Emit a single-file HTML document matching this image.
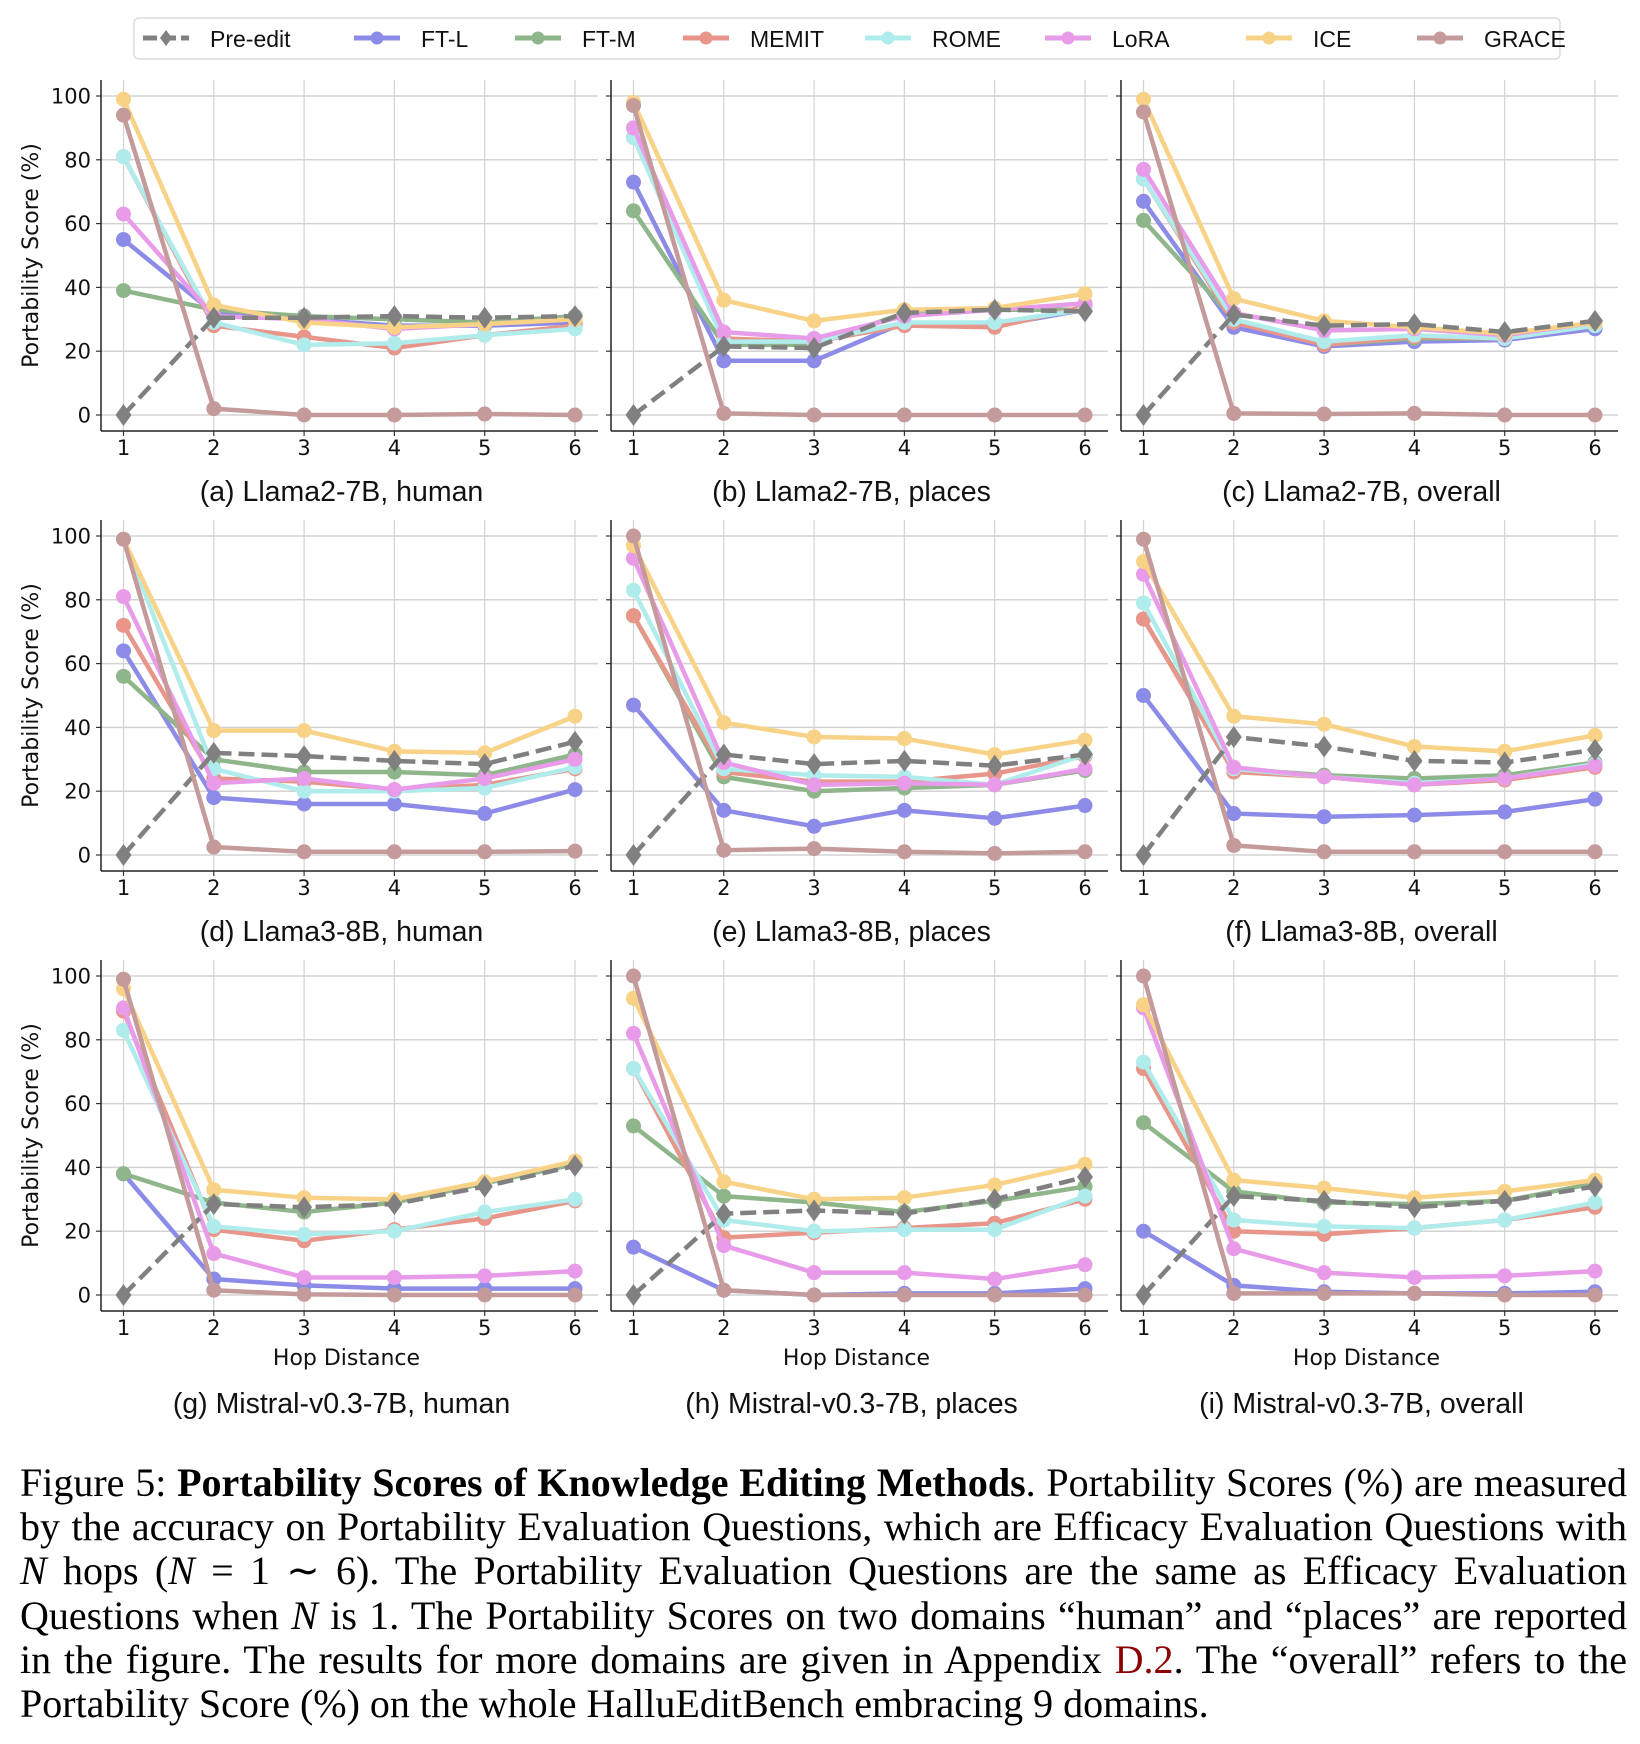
<!DOCTYPE html>
<html><head><meta charset="utf-8"><style>
body{margin:0;background:#fff;width:1640px;height:1744px;overflow:hidden;position:relative}
#cap{position:absolute;left:20px;top:1461px;width:1607px;font-family:"Liberation Serif",serif;font-size:40px;line-height:44.2px;color:#000}
#cap div{text-align:justify;text-align-last:justify;white-space:nowrap;height:44.2px}
#cap div.last{text-align-last:left}
#cap i{font-style:italic}
.ref{color:#8b0000}
</style></head><body>
<svg id="fig" width="1640" height="1460" style="position:absolute;left:0;top:0" xmlns="http://www.w3.org/2000/svg" font-family="DejaVu Sans, Liberation Sans, sans-serif"></svg>
<div id="cap">
<div>Figure 5: <b>Portability Scores of Knowledge Editing Methods</b>. Portability Scores (%) are measured</div>
<div>by the accuracy on Portability Evaluation Questions, which are Efficacy Evaluation Questions with</div>
<div><i>N</i> hops (<i>N</i> = 1 ∼ 6). The Portability Evaluation Questions are the same as Efficacy Evaluation</div>
<div>Questions when <i>N</i> is 1. The Portability Scores on two domains “human” and “places” are reported</div>
<div>in the figure. The results for more domains are given in Appendix <span class="ref">D.2</span>. The “overall” refers to the</div>
<div class="last">Portability Score (%) on the whole HalluEditBench embracing 9 domains.</div>
</div>
<script>
const hops=[1,2,3,4,5,6];
const yTicks=[0,20,40,60,80,100];
const methods=["Pre-edit","FT-L","FT-M","MEMIT","ROME","LoRA","ICE","GRACE"];
const colors=["#808080","#8c8ce8","#8fb58a","#e8958a","#b0ecec","#e89be8","#f8d286","#c49a9a"];
const titles=["(a) Llama2-7B, human","(b) Llama2-7B, places","(c) Llama2-7B, overall","(d) Llama3-8B, human","(e) Llama3-8B, places","(f) Llama3-8B, overall","(g) Mistral-v0.3-7B, human","(h) Mistral-v0.3-7B, places","(i) Mistral-v0.3-7B, overall"];
const pA_ftl=[55,32,30,28,28,29],pA_ftm=[39,33,31,30,29,31],pA_mem=[81,28,24.5,21,25,28],pA_rom=[81,29,22,22.5,25,27],pA_lora=[63,31,30,27,28.5,30],pA_ice=[99,34.5,29,27.5,28.5,30],pA_gr=[94,2,0,0,0.3,0],pA_pre=[0,30.5,30.5,31,30.5,31];
const pB_ftl=[73,17,17,29,28,33],pB_ftm=[64,22,22,32,33,33],pB_mem=[87,24,23,28,27.5,34],pB_rom=[87,23,23,29,29,33],pB_lora=[90,26,24,31,33,35],pB_ice=[98,36,29.5,33,33.5,38],pB_gr=[97,0.5,0,0,0,0],pB_pre=[0,21.5,21,32,33,32.5];
const pC_ftl=[67,27.5,21.5,23,23.5,27],pC_ftm=[61,30,22,24,24,28],pC_mem=[74,29,22,24.5,24,28],pC_rom=[74,30,23,25,24,28],pC_lora=[77,32,26.5,27,25,29],pC_ice=[99,36.5,29.5,27.5,25.5,29],pC_gr=[95,0.5,0.3,0.5,0,0],pC_pre=[0,31.5,28,28.5,26,29.5];
const pD_ftl=[64,18,16,16,13,20.5],pD_ftm=[56,30,26,26,25,31.5],pD_mem=[72,24,23,20.5,22,27],pD_rom=[99,27,20,20,21,27.5],pD_lora=[81,22.5,24,20.5,24,30],pD_ice=[99,39,39,32.5,32,43.5],pD_gr=[99,2.5,1,1,1,1.2],pD_pre=[0,32,31,29.5,28.5,35.5];
const pE_ftl=[47,14,9,14,11.5,15.5],pE_ftm=[75,24.5,20,21,22,26.5],pE_mem=[75,26,23,23,25.5,31],pE_rom=[83,27,25,24.5,22,31.5],pE_lora=[93,29,22,22.5,22,27],pE_ice=[97,41.5,37,36.5,31.5,36],pE_gr=[100,1.5,2,1,0.5,1],pE_pre=[0,31.5,28.5,29.5,28,31.5];
const pF_ftl=[50,13,12,12.5,13.5,17.5],pF_ftm=[74,27,25,24,25,29],pF_mem=[74,26,24.5,22,23.5,27.5],pF_rom=[79,27,24.5,22.5,24,28.5],pF_lora=[88,27.5,24.5,22,24,28],pF_ice=[92,43.5,41,34,32.5,37.5],pF_gr=[99,3,1,1,1,1],pF_pre=[0,37,34,29.5,29,33];
const pG_ftl=[38,5,3,2,2,2],pG_ftm=[38,29,26,29,35,41],pG_mem=[89,20.5,17,20.5,24,29.5],pG_rom=[83,21.5,19,20,26,30],pG_lora=[90,13,5.5,5.5,6,7.5],pG_ice=[96,33,30.5,30,35.5,42],pG_gr=[99,1.5,0.2,0,0,0],pG_pre=[0,28.5,27.5,28.5,34,40.5];
const pH_ftl=[15,1.5,0,0.5,0.5,2],pH_ftm=[53,31,29,26,29.5,34],pH_mem=[71,18,19.5,21,22.5,30],pH_rom=[71,23.5,20,20.5,20.5,31],pH_lora=[82,15.5,7,7,5,9.5],pH_ice=[93,35.5,30,30.5,34.5,41],pH_gr=[100,1.5,0,0,0,0],pH_pre=[0,25.5,26.5,25.5,30,37];
const pI_ftl=[20,3,1,0.5,0.5,1],pI_ftm=[54,32.5,29,28.5,29.5,35],pI_mem=[71,20,19,21,23.5,27.5],pI_rom=[73,23.5,21.5,21,23.5,29],pI_lora=[90,14.5,7,5.5,6,7.5],pI_ice=[91,36,33.5,30.5,32.5,36],pI_gr=[100,0.5,0.5,0.5,0,0],pI_pre=[0,31,29.5,27.5,29.5,34];
const panels=[
[pA_pre,pA_ftl,pA_ftm,pA_mem,pA_rom,pA_lora,pA_ice,pA_gr],[pB_pre,pB_ftl,pB_ftm,pB_mem,pB_rom,pB_lora,pB_ice,pB_gr],[pC_pre,pC_ftl,pC_ftm,pC_mem,pC_rom,pC_lora,pC_ice,pC_gr],
[pD_pre,pD_ftl,pD_ftm,pD_mem,pD_rom,pD_lora,pD_ice,pD_gr],[pE_pre,pE_ftl,pE_ftm,pE_mem,pE_rom,pE_lora,pE_ice,pE_gr],[pF_pre,pF_ftl,pF_ftm,pF_mem,pF_rom,pF_lora,pF_ice,pF_gr],
[pG_pre,pG_ftl,pG_ftm,pG_mem,pG_rom,pG_lora,pG_ice,pG_gr],[pH_pre,pH_ftl,pH_ftm,pH_mem,pH_rom,pH_lora,pH_ice,pH_gr],[pI_pre,pI_ftl,pI_ftm,pI_mem,pI_rom,pI_lora,pI_ice,pI_gr]];

const NS="http://www.w3.org/2000/svg";
const svg=document.getElementById('fig');
function mk(tag,attrs,parent,text){const e=document.createElementNS(NS,tag);for(const k in attrs)e.setAttribute(k,attrs[k]);if(text!==undefined)e.textContent=text;(parent||svg).appendChild(e);return e;}

const lg=mk('g',{});


mk('rect',{x:134,y:18,width:1426,height:41,rx:5,fill:'#fff',stroke:'#dcdcdc','stroke-width':1.5},lg);
const legX=[143,354,515,683,865,1045,1246,1417];
methods.forEach((m,i)=>{
  const g=mk('g',{},lg);
  
  
  const x=legX[i];
  mk('line',{x1:x,y1:38,x2:x+46,y2:38,stroke:colors[i],'stroke-width':5,'stroke-dasharray':i===0?'14,5':'none'},g);
  if(i===0) mk('path',{d:`M${x+23},30 L${x+29},38 L${x+23},46 L${x+17},38Z`,fill:colors[i]},g);
  else mk('circle',{cx:x+23,cy:38,r:6.5,fill:colors[i]},g);
  mk('text',{x:x+67,y:47,'font-size':23,'font-family':'Liberation Sans, sans-serif',fill:'#111'},g,m);
});

panels.forEach((series,p)=>{
  const c=p%3,r=Math.floor(p/3);
  const L=101+510*c,T=80+440*r,B=431+440*r,W=497;
  const xs=h=>L+22.5+(h-1)*(451.5/5);
  const ys=v=>415+440*r-v*3.19;
  const g=mk('g',{});
  
  
  yTicks.forEach(t=>{
    mk('line',{x1:L,x2:L+W,y1:ys(t),y2:ys(t),stroke:'#d3d3d3','stroke-width':1.5},g);
    mk('line',{x1:L-5,x2:L,y1:ys(t),y2:ys(t),stroke:'#333','stroke-width':1.2},g);
    if(c===0){const tl=mk('text',{x:L-10,y:ys(t)+7.5,'text-anchor':'end','font-size':21,fill:'#111'},g,String(t));
      }
  });
  hops.forEach(h=>{
    mk('line',{x1:xs(h),x2:xs(h),y1:T,y2:B,stroke:'#d3d3d3','stroke-width':1.2},g);
    mk('line',{x1:xs(h),x2:xs(h),y1:B,y2:B+5,stroke:'#333','stroke-width':1.2},g);
    const xl=mk('text',{x:xs(h),y:B+24,'text-anchor':'middle','font-size':21,fill:'#111'},g,String(h));
    
  });
  mk('line',{x1:L,x2:L,y1:T,y2:B,stroke:'#222','stroke-width':1.5},g);
  mk('line',{x1:L,x2:L+W,y1:B,y2:B,stroke:'#222','stroke-width':1.5},g);
  if(c===0){const yl=mk('text',{x:0,y:0,transform:`translate(38,${(T+B)/2}) rotate(-90)`,'text-anchor':'middle','font-size':22,fill:'#111'},g,'Portability Score (%)');
    }
  if(r===2){const xt=mk('text',{x:L+W/2-3,y:1365,'text-anchor':'middle','font-size':22,fill:'#111'},g,'Hop Distance');
    }
  const tt=mk('text',{x:L+W/2-8,y:(r===2?1413:501+440*r),'text-anchor':'middle','font-size':28.5,'font-family':'Liberation Sans, sans-serif',fill:'#111'},g,titles[p]);
  
  const order=[1,2,3,4,5,6,0,7];
  order.forEach(i=>{
    const vals=series[i];
    const sg=mk('g',{},g);
    
    
    const pts=vals.map((v,k)=>xs(hops[k])+','+ys(v)).join(' ');
    mk('polyline',{points:pts,fill:'none',stroke:colors[i],'stroke-width':4.5,'stroke-linejoin':'round','stroke-dasharray':i===0?'16,7':'none'},sg);
    vals.forEach((v,k)=>{
      const x=xs(hops[k]),y=ys(v);
      if(i===0){const d=mk('path',{d:`M${x},${y-11} L${x+8},${y} L${x},${y+11} L${x-8},${y}Z`,fill:colors[i]},sg);
        }
      else{const d=mk('circle',{cx:x,cy:y,r:7.5,fill:colors[i]},sg);
        }
    });
  });
});
</script>
</body></html>
